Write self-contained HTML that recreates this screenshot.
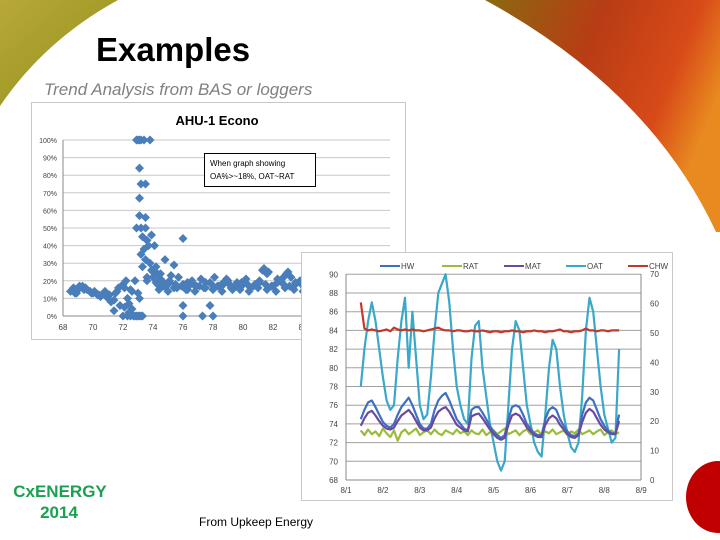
<!DOCTYPE html>
<html><head><meta charset="utf-8"><style>
body{margin:0;width:720px;height:540px;overflow:hidden;background:#fff;font-family:"Liberation Sans",sans-serif;position:relative}
svg{position:absolute;left:0;top:0}
</style></head><body>
<svg width="720" height="540">
<defs>
<linearGradient id="gl" x1="0" y1="0" x2="1" y2="1"><stop offset="0" stop-color="#b8a83a"/><stop offset="0.6" stop-color="#a09a25"/><stop offset="1" stop-color="#d89a30"/></linearGradient>
<linearGradient id="gr" x1="0" y1="0" x2="1" y2="0.4"><stop offset="0" stop-color="#8a6a10"/><stop offset="0.45" stop-color="#b83c15"/><stop offset="0.8" stop-color="#d84a18"/><stop offset="1" stop-color="#e88a20"/></linearGradient>
</defs>
<path d="M0,0 L118,0 Q45,40 0,106 Z" fill="url(#gl)"/>
<path d="M485,0 L720,0 L720,232 L716,232 Q650,90 485,0 Z" fill="url(#gr)"/>
<ellipse cx="718" cy="497" rx="32" ry="36" fill="#c00000"/>
<text x="96" y="61" font-size="33" font-weight="bold" fill="#000">Examples</text>
<text x="44" y="95" font-size="17" font-style="italic" fill="#808080">Trend Analysis from BAS or loggers</text>
<text x="60" y="497" font-size="17" font-weight="bold" fill="#1aa050" text-anchor="middle">CxENERGY</text>
<text x="59" y="518" font-size="17" font-weight="bold" fill="#1aa050" text-anchor="middle">2014</text>
<text x="199" y="526" font-size="12" fill="#000">From Upkeep Energy</text>
<g id="c1"></g>
<g id="c2"></g>
</svg>
<script>
// Scatter chart data (OAT °F vs OA %)
const scatterX=[68.5,68.8,69,69.3,69.5,69.8,70,70.3,70.5,70.8,71,71.2,71.4,71.5,71.7,71.8,72,72,72.1,72.2,72.3,72.4,72.5,72.6,72.7,72.8,72.9,73,73.1,73.2,73.3,72.3,72.5,72.8,73,73.1,
72.9,73,73.1,73.2,73.4,73.8,73.1,73.2,73.5,73.1,73.1,73.5,72.9,73.2,73.5,73.3,73.6,73.4,73.7,73.2,73.5,73.3,73.9,74.1,73.8,74,73.6,74.2,74.5,74.8,75.4,76,76,76,77.3,77.8,78,
74.2,74.5,74.8,75.1,75.4,75.7,76,76.3,76.6,76.9,77.2,77.5,77.8,78.1,78.4,78.7,79,79.3,79.6,79.9,80.2,80.5,80.8,81.1,81.4,81.7,82,82.3,82.6,82.9,83.2,83.5,83.8,84.1,
74.4,75,75.6,76.2,76.8,77.4,78,78.6,79.2,79.8,80.4,81,81.6,82.2,82.8,83.4,84,81.3,81.6,82.7,83,75.2,76.5,78.9,80.1,
74.3,74.7,75.1,75.5,75.9,76.3,76.7,77.1,77.5,77.9,78.3,78.7,79.1,79.5,79.9,80.3,80.7,81.1,81.5,81.9,82.3,82.7,83.1,83.5,83.9,
68.7,69.1,69.6,70.1,70.6,71.1,71.6,72.1,68.9,69.4,69.9,70.4,70.9,71.4,72.4,72.6,73.6,74,74.3,73.9,74.6,75];
const scatterY=[14,13,15,17,16,14,13,12,11,14,10,8,3,13,16,6,0,18,5,20,0,2,0,14,0,0,0,0,0,0,0,10,15,20,13,10,
100,100,100,100,100,100,84,75,75,67,57,56,50,50,50,45,43,38,40,35,32,28,46,40,30,25,22,28,24,32,29,44,6,0,0,6,0,
19,21,17,20,16,22,18,15,20,17,21,16,19,22,17,18,20,15,19,17,21,16,18,20,27,25,17,21,19,24,22,18,20,16,
15,14,16,15,14,16,15,14,16,15,14,16,15,14,16,15,14,26,24,22,25,23,18,21,19,
18,17,19,18,17,19,18,17,19,18,17,19,18,17,19,18,17,19,18,17,19,18,17,19,18,
16,17,15,14,12,12,14,16,13,15,13,12,11,9,7,4,20,22,24,26,20,18];
const xTicks1=[68,70,72,74,76,78,80,82,84,86];
const yTicks1=[0,10,20,30,40,50,60,70,80,90,100];

// Trend chart data, sampled every 0.1 day from 8/1.4
const tStart=1.4, tStep=0.1;
const oat=[78,82,85,87,85,82,79,76.5,75.5,76,81,85,87.5,80,86,81,76,74.5,75,79,84,88,89,90,87,82,78,76,74.5,74,81,84.5,85,80,77,74,72,70,69,70,76,82,85,84,80,76,74,72,71,70.5,75,80,83,82,78,75,73,71.5,71,72,77,84,87.5,86,82,78,75,73.5,72,72.5,82];
const hw=[74.5,75.5,76.3,76.5,75.8,75,74.2,73.8,73.6,74,75,75.8,76.3,76.8,76,75,74,73.5,73.5,74,75.5,76.5,77,77.3,76.5,75.5,74.5,74,73.5,73.3,75.5,75.8,75.8,75.2,74.5,73.8,73.2,72.8,72.5,72.8,74.5,75.8,76,75.8,75,74,73.5,73,72.8,72.8,74.5,75.5,75.8,75.5,74.5,73.8,73.2,72.8,72.7,73,75,76.3,76.8,76.5,75.5,74.5,73.8,73.3,73,73,75];
const mat=[73.8,74.6,75.2,75.4,74.9,74.3,73.8,73.5,73.4,73.6,74.3,74.9,75.2,75.5,75,74.3,73.6,73.3,73.3,73.6,74.6,75.3,75.6,75.8,75.3,74.6,73.9,73.6,73.3,73.2,74.8,75,75.1,74.6,74,73.4,72.9,72.5,72.3,72.5,73.9,74.9,75.1,74.9,74.3,73.6,73.2,72.8,72.6,72.6,73.9,74.6,74.9,74.6,73.9,73.4,72.9,72.6,72.5,72.8,74.2,75.2,75.6,75.3,74.6,73.9,73.4,73.1,72.9,72.9,74.3];
const rat=[73.3,72.8,73.4,72.9,73.2,72.7,73.5,73,72.6,73.3,72.2,73.1,73.4,72.9,73.2,73.5,72.8,73.1,73.3,72.9,73.4,73,72.8,73.3,73.1,72.9,73.4,73,73.2,72.8,73.3,73,72.9,73.4,72.8,73.1,73.3,72.9,73.2,73.5,72.9,73.1,73.3,72.8,73.2,73.4,72.9,73.1,73.3,72.8,73.2,73,73.4,72.9,73.1,73.3,72.8,73.2,73,73.4,72.9,73.1,73.3,72.9,73.2,73.4,72.8,73.1,73.3,72.9,73.1];
const chw=[87,84.2,84,84.1,84,83.9,84,84.1,83.9,84.3,84.1,84,84.1,84,84.1,84,84,83.9,84,84.1,84.2,84.3,84.1,84,84,83.9,84,84,83.9,83.9,84,83.9,83.9,84,83.9,83.8,83.9,83.9,83.8,83.9,83.9,84,83.9,83.9,83.8,83.9,83.9,84,83.9,83.9,83.8,83.9,83.9,84,84.1,83.9,83.9,83.8,83.9,83.9,84,84.2,84,84,83.9,84,84,83.9,84,84,84];
const seriesNames=["HW","RAT","MAT","OAT","CHW"];
const xLabels2=["8/1","8/2","8/3","8/4","8/5","8/6","8/7","8/8","8/9"];
const yTicksL=[68,70,72,74,76,78,80,82,84,86,88,90];
const yTicksR=[0,10,20,30,40,50,60,70];

const NS="http://www.w3.org/2000/svg";
function mk(p,tag,at){const e=document.createElementNS(NS,tag);for(const k in at)e.setAttribute(k,at[k]);p.appendChild(e);return e;}

// Chart 1
const c1=document.getElementById('c1');
const X1=v=>63+(v-68)*15, Y1=v=>316-v*1.76;
let r=mk(c1,'rect',{x:31.5,y:102.5,width:374,height:237,fill:'#fff',stroke:'#c8c8c8'});


let t=mk(c1,'text',{x:217,y:125,'font-size':13,'font-weight':'bold','text-anchor':'middle',fill:'#000'});t.textContent='AHU-1 Econo';


yTicks1.forEach(v=>{
  const g=mk(c1,'line',{x1:63,x2:390,y1:Y1(v),y2:Y1(v),stroke:v?'#c8c8c8':'#888','stroke-width':1});
  
  
  const l=mk(c1,'text',{x:57,y:Y1(v)+3,'font-size':7,'text-anchor':'end',fill:'#444'});l.textContent=v+'%';
  
  
});
mk(c1,'line',{x1:63,x2:63,y1:Y1(100),y2:316,stroke:'#888'});
xTicks1.forEach(v=>{
  const l=mk(c1,'text',{x:X1(v),y:330,'font-size':8,'text-anchor':'middle',fill:'#444'});l.textContent=v;
  
  
});
const n1=Math.min(scatterX.length,scatterY.length);
for(let i=0;i<n1;i++){
  const x=X1(scatterX[i]),y=Y1(scatterY[i]);
  const d=mk(c1,'polygon',{points:`${x},${y-4.5} ${x+4.5},${y} ${x},${y+4.5} ${x-4.5},${y}`,fill:'#4a7ebb'});
  
  
}
let ab=mk(c1,'rect',{x:204.5,y:153.5,width:111,height:33,fill:'#fff',stroke:'#000'});


[['When graph showing',166],['OA%>~18%, OAT~RAT',179]].forEach(a=>{
  const e=mk(c1,'text',{x:210,y:a[1],'font-size':8,fill:'#000'});e.textContent=a[0];
  
  
});

// Chart 2
const c2=document.getElementById('c2');
const X2=d=>346+(d-1)*36.9, Y2=v=>274.3+(90-v)*9.35, YR=v=>480-v*2.94;
r=mk(c2,'rect',{x:301.5,y:252.5,width:371,height:248,fill:'#fff',stroke:'#c8c8c8'});


yTicksL.forEach(v=>{
  const g=mk(c2,'line',{x1:346,x2:641,y1:Y2(v),y2:Y2(v),stroke:v===68?'#888':'#a0a0a0','stroke-width':1});
  
  
  const l=mk(c2,'text',{x:338,y:Y2(v)+3,'font-size':8,'text-anchor':'end',fill:'#444'});l.textContent=v;
  
  
});
yTicksR.forEach(v=>{
  const l=mk(c2,'text',{x:650,y:YR(v)+3,'font-size':8,fill:'#444'});l.textContent=v;
  
  
});
mk(c2,'line',{x1:346,x2:346,y1:274,y2:480,stroke:'#888'});
mk(c2,'line',{x1:641,x2:641,y1:274,y2:480,stroke:'#888'});
xLabels2.forEach((s,i)=>{
  const l=mk(c2,'text',{x:X2(i+1),y:493,'font-size':8,'text-anchor':'middle',fill:'#444'});l.textContent=s;
  
  
});
const colors={HW:'#3f6fc0',RAT:'#9bbb3b',MAT:'#6a4aa0',OAT:'#3aa8c8',CHW:'#c0392b'};
const data={HW:hw,RAT:rat,MAT:mat,OAT:oat,CHW:chw};
["OAT","RAT","HW","MAT","CHW"].forEach(k=>{
  const pts=data[k].map((v,i)=>X2(tStart+i*tStep).toFixed(1)+','+Y2(v).toFixed(1)).join(' ');
  const p=mk(c2,'polyline',{points:pts,fill:'none',stroke:colors[k],'stroke-width':2.2,'stroke-linejoin':'round'});
  
  
});
seriesNames.forEach((k,i)=>{
  const x=380+i*62;
  const ln=mk(c2,'line',{x1:x,x2:x+20,y1:266,y2:266,stroke:colors[k],'stroke-width':2});
  
  
  const l=mk(c2,'text',{x:x+21,y:269,'font-size':8,fill:'#444'});l.textContent=k;
  
  
});
</script>
</body></html>
